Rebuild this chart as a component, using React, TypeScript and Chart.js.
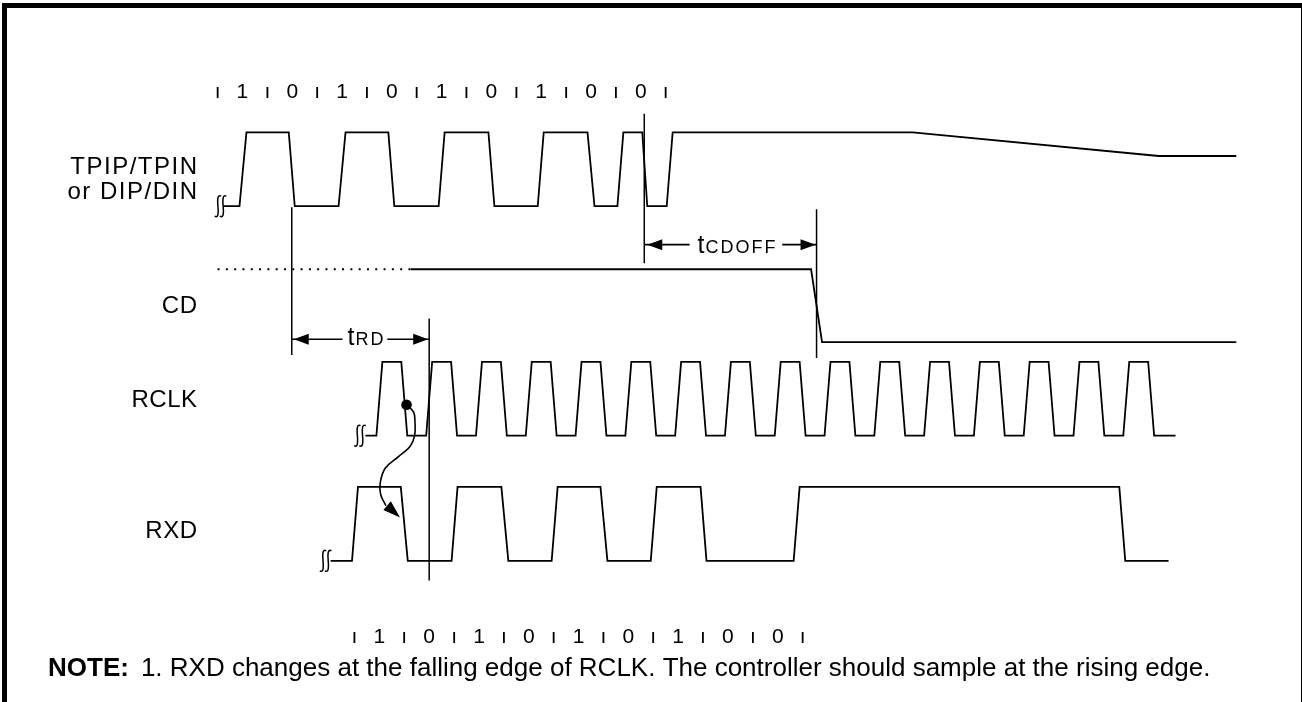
import React, { useEffect, useRef } from "react";
import { Chart, registerables } from "chart.js";

Chart.register(...registerables);

// ---------- time axis: nanoseconds, one bit cell = 100 ns ----------
const TIME_MIN = -426.3;
const TIME_MAX = 2167.3;

// ---------- bit-cell labels ----------
const TOP_TICKS = [0, 100, 200, 300, 400, 500, 600, 700, 800, 900];
const TOP_BITS = ["1", "0", "1", "0", "1", "0", "1", "0", "0"];
const BOTTOM_TICKS = [275, 375, 475, 575, 675, 775, 875, 975, 1075, 1175];
const BOTTOM_BITS = ["1", "0", "1", "0", "1", "0", "1", "0", "0"];

const SIGNAL_LABELS = ["TPIP/TPIN", "or DIP/DIN", "CD", "RCLK", "RXD"];
const NOTE_HEAD = "NOTE:";
const NOTE_TEXT = "1. RXD changes at the falling edge of RCLK. The controller should sample at the rising edge.";

// ---------- waveforms: [time ns, logic level] ----------
const TPIP_WAVE = [
  [12, 0], [44, 0], [58, 1], [143, 1], [155, 0], [243, 0], [257, 1], [343, 1], [355, 0],
  [444, 0], [456, 1], [544, 1], [556, 0], [643, 0], [655, 1], [743, 1], [757, 0],
  [803, 0], [815, 1], [853, 1], [863, 0], [902, 0], [914, 1], [1396, 1], [1890, 0.68], [2046, 0.68],
];
const CD_UNKNOWN = [[0, 1], [388, 1]];
const CD_WAVE = [[388, 1], [1192, 1], [1214, 0], [2046, 0]];
const RCLK_WAVE = [
  [297, 0],
  [319, 0], [331, 1], [369, 1], [381, 0],
  [419, 0], [431, 1], [469, 1], [481, 0],
  [519, 0], [531, 1], [569, 1], [581, 0],
  [619, 0], [631, 1], [669, 1], [681, 0],
  [719, 0], [731, 1], [769, 1], [781, 0],
  [819, 0], [831, 1], [869, 1], [881, 0],
  [919, 0], [931, 1], [969, 1], [981, 0],
  [1019, 0], [1031, 1], [1069, 1], [1081, 0],
  [1119, 0], [1131, 1], [1169, 1], [1181, 0],
  [1219, 0], [1231, 1], [1269, 1], [1281, 0],
  [1319, 0], [1331, 1], [1369, 1], [1381, 0],
  [1419, 0], [1431, 1], [1469, 1], [1481, 0],
  [1519, 0], [1531, 1], [1569, 1], [1581, 0],
  [1619, 0], [1631, 1], [1669, 1], [1681, 0],
  [1719, 0], [1731, 1], [1769, 1], [1781, 0],
  [1819, 0], [1831, 1], [1869, 1], [1881, 0],
  [1924, 0],
];
const RXD_WAVE = [
  [227, 0], [270, 0], [282, 1], [368, 1], [382, 0], [470, 0], [482, 1], [570, 1], [584, 0],
  [671, 0], [683, 1], [769, 1], [783, 0], [870, 0], [882, 1], [970, 1], [982, 0],
  [1157, 0], [1169, 1], [1811, 1], [1823, 0], [1910, 0],
];
// where the "broken line" marks sit (ns)
const BREAK_TIMES = { tpip: 6, rclk: 286, rxd: 217 };

// ---------- timing parameters (ns) ----------
const T_RD = [149, 425];
const T_CDOFF = [857, 1203];
const T_RD_GAP = [251, 341];
const T_CDOFF_GAP = [948, 1134];
const SAMPLE_DOT = [379.5];
const CAUSE_CURVE_T = [379.5, 393.8, 396.4, 395.8, 386.5, 364, 336.7, 326.7, 327.7, 338];
const CURVE_HEAD_T = [[366.5, 520], [333, 512.5], [348, 503.5]];

// ---------- layout (vertical positions, px) ----------
const LANE = {
  tpip: { high: 129, low: 204 },
  cd: { high: 268, low: 342 },
  rclk: { high: 362, low: 437 },
  rxd: { high: 489, low: 564 },
};
const MARK_SPAN = {
  rdStart: [205, 355],
  rdEnd: [318, 584],
  cdoffStart: [110, 262],
  cdoffEnd: [207, 358],
};
const ARROW_Y = { rd: 339, cdoff: 243 };
const CURVE_Y = [405.5, 413, 423, 437, 448, 458, 470, 485, 497, 508];

const FONT = '"Liberation Sans", Arial, Helvetica, sans-serif';

const toPts = (wave: number[][], lane: { high: number; low: number }) =>
  wave.map(([t, l]) => ({ x: t, y: lane.low + (lane.high - lane.low) * l }));

const seg = (data: { x: number; y: number }[], extra: any = {}) => ({
  data,
  showLine: true,
  borderColor: "#000",
  backgroundColor: "#000",
  borderWidth: 1.8,
  pointRadius: 0,
  fill: false,
  tension: 0,
  ...extra,
});

const diagramPlugin = {
  id: "timingDiagram",
  afterDatasetsDraw(chart: any) {
    const ctx: CanvasRenderingContext2D = chart.ctx;
    const X = (t: number) => chart.scales.x.getPixelForValue(t);
    const Y = (v: number) => chart.scales.y.getPixelForValue(v);
    ctx.save();
    ctx.fillStyle = "#000";
    ctx.strokeStyle = "#000";

    // frame
    ctx.lineWidth = 5;
    ctx.strokeRect(4.5, 5.5, 1299, 730);

    // signal labels
    ctx.font = `24px ${FONT}`;
    ctx.textAlign = "right";
    ctx.textBaseline = "alphabetic";
    const labelBase = [174, 199, 313, 407, 538];
    SIGNAL_LABELS.forEach((s, i) => {
      (ctx as any).letterSpacing = i < 2 ? "1.5px" : "0.5px";
      ctx.fillText(s, i < 2 ? 198.5 : 197.5, labelBase[i]);
    });
    (ctx as any).letterSpacing = "0px";

    // bit rows
    const bitRow = (ticks: number[], bits: string[], base: number) => {
      ctx.font = `21px ${FONT}`;
      ctx.textAlign = "center";
      ticks.forEach((t) => ctx.fillText("\u0131", X(t), base));
      bits.forEach((b, i) => ctx.fillText(b, (X(ticks[i]) + X(ticks[i + 1])) / 2, base));
    };
    bitRow(TOP_TICKS, TOP_BITS, 98);
    bitRow(BOTTOM_TICKS, BOTTOM_BITS, 643);

    // arrow heads
    const head = (tx: number, ty: number, dir: number) => {
      ctx.beginPath();
      ctx.moveTo(tx, ty);
      ctx.lineTo(tx - dir * 15, ty - 5.5);
      ctx.lineTo(tx - dir * 15, ty + 5.5);
      ctx.closePath();
      ctx.fill();
    };
    head(X(T_RD[0]) + 2, Y(ARROW_Y.rd), -1);
    head(X(T_RD[1]) - 1, Y(ARROW_Y.rd), 1);
    head(X(T_CDOFF[0]) + 3, Y(ARROW_Y.cdoff), -1);
    head(X(T_CDOFF[1]) - 1, Y(ARROW_Y.cdoff), 1);

    // timing parameter names
    const param = (x: number, base: number, sub: string) => {
      ctx.textAlign = "left";
      ctx.font = `25px ${FONT}`;
      ctx.fillText("t", x, base);
      const w = ctx.measureText("t").width;
      ctx.font = `18px ${FONT}`;
      (ctx as any).letterSpacing = "2px";
      ctx.fillText(sub, x + w + 1, base);
      (ctx as any).letterSpacing = "0px";
    };
    param(X(T_RD_GAP[0]) + 5, 345, "RD");
    param(X(T_CDOFF_GAP[0]) + 8, 253, "CDOFF");

    // curved arrow head
    ctx.beginPath();
    CURVE_HEAD_T.forEach(([t, y], i) => (i ? ctx.lineTo(X(t), Y(y)) : ctx.moveTo(X(t), Y(y))));
    ctx.closePath();
    ctx.fill();

    // broken-line marks
    const brk = (t: number, y: number) => {
      const cx = X(t);
      const cy = Y(y);
      ctx.lineWidth = 1.5;
      [-2.6, 2.6].forEach((o) => {
        const sx = cx + o;
        ctx.beginPath();
        ctx.moveTo(sx + 3.2, cy - 10);
        ctx.bezierCurveTo(sx - 0.8, cy - 12.5, sx - 0.5, cy - 5, sx, cy);
        ctx.bezierCurveTo(sx + 0.5, cy + 5, sx + 0.8, cy + 12.5, sx - 3.2, cy + 10);
        ctx.stroke();
      });
    };
    brk(BREAK_TIMES.tpip, LANE.tpip.low);
    brk(BREAK_TIMES.rclk, LANE.rclk.low);
    brk(BREAK_TIMES.rxd, LANE.rxd.low);

    // note
    ctx.textAlign = "left";
    ctx.font = `bold 26px ${FONT}`;
    ctx.fillText(NOTE_HEAD, 48, 676);
    const nw = ctx.measureText(NOTE_HEAD).width;
    ctx.font = `26px ${FONT}`;
    ctx.fillText(NOTE_TEXT, 48 + nw + 12, 676);

    ctx.restore();
  },
};

export default function App() {
  const ref = useRef<HTMLCanvasElement>(null);
  useEffect(() => {
    const canvas = ref.current;
    if (!canvas) return;
    const datasets: any[] = [
      seg(toPts(TPIP_WAVE, LANE.tpip)),
      seg(toPts(CD_UNKNOWN, LANE.cd), { borderDash: [2, 6.3], borderWidth: 2 }),
      seg(toPts(CD_WAVE, LANE.cd)),
      seg(toPts(RCLK_WAVE, LANE.rclk)),
      seg(toPts(RXD_WAVE, LANE.rxd)),
      // marker lines
      seg([{ x: T_RD[0], y: MARK_SPAN.rdStart[0] }, { x: T_RD[0], y: MARK_SPAN.rdStart[1] }], { borderWidth: 1.5 }),
      seg([{ x: T_RD[1], y: MARK_SPAN.rdEnd[0] }, { x: T_RD[1], y: MARK_SPAN.rdEnd[1] }], { borderWidth: 1.5 }),
      seg([{ x: T_CDOFF[0], y: MARK_SPAN.cdoffStart[0] }, { x: T_CDOFF[0], y: MARK_SPAN.cdoffStart[1] }], { borderWidth: 1.5 }),
      seg([{ x: T_CDOFF[1], y: MARK_SPAN.cdoffEnd[0] }, { x: T_CDOFF[1], y: MARK_SPAN.cdoffEnd[1] }], { borderWidth: 1.5 }),
      // arrow shafts
      seg([{ x: T_RD[0], y: ARROW_Y.rd }, { x: T_RD_GAP[0], y: ARROW_Y.rd }], { borderWidth: 1.6 }),
      seg([{ x: T_RD_GAP[1], y: ARROW_Y.rd }, { x: T_RD[1], y: ARROW_Y.rd }], { borderWidth: 1.6 }),
      seg([{ x: T_CDOFF[0], y: ARROW_Y.cdoff }, { x: T_CDOFF_GAP[0], y: ARROW_Y.cdoff }], { borderWidth: 1.6 }),
      seg([{ x: T_CDOFF_GAP[1], y: ARROW_Y.cdoff }, { x: T_CDOFF[1], y: ARROW_Y.cdoff }], { borderWidth: 1.6 }),
      // cause/effect curve
      seg(CAUSE_CURVE_T.map((t, i) => ({ x: t, y: CURVE_Y[i] })), { tension: 0.4, borderWidth: 1.6 }),
      // sample dot on the RCLK falling edge
      {
        data: SAMPLE_DOT.map((t) => ({ x: t, y: CURVE_Y[0] })),
        showLine: false,
        pointRadius: 5.3,
        pointBackgroundColor: "#000",
        pointBorderWidth: 0,
      },
    ];
    const chart = new Chart(canvas, {
      type: "scatter",
      data: { datasets },
      options: {
        animation: false,
        responsive: false,
        devicePixelRatio: 1,
        events: [],
        layout: { padding: 0 },
        plugins: {
          legend: { display: false },
          tooltip: { enabled: false },
          title: { display: false },
        },
        scales: {
          x: { type: "linear", min: TIME_MIN, max: TIME_MAX, display: false },
          y: { type: "linear", min: 0, max: 702, reverse: true, display: false },
        },
      },
      plugins: [diagramPlugin],
    } as any);
    return () => chart.destroy();
  }, []);
  return (
    <div style={{ position: "absolute", left: 0, top: 0, width: 1302, height: 702, background: "#fff" }}>
      <canvas ref={ref} width={1302} height={702} style={{ display: "block", width: 1302, height: 702 }} />
    </div>
  );
}
